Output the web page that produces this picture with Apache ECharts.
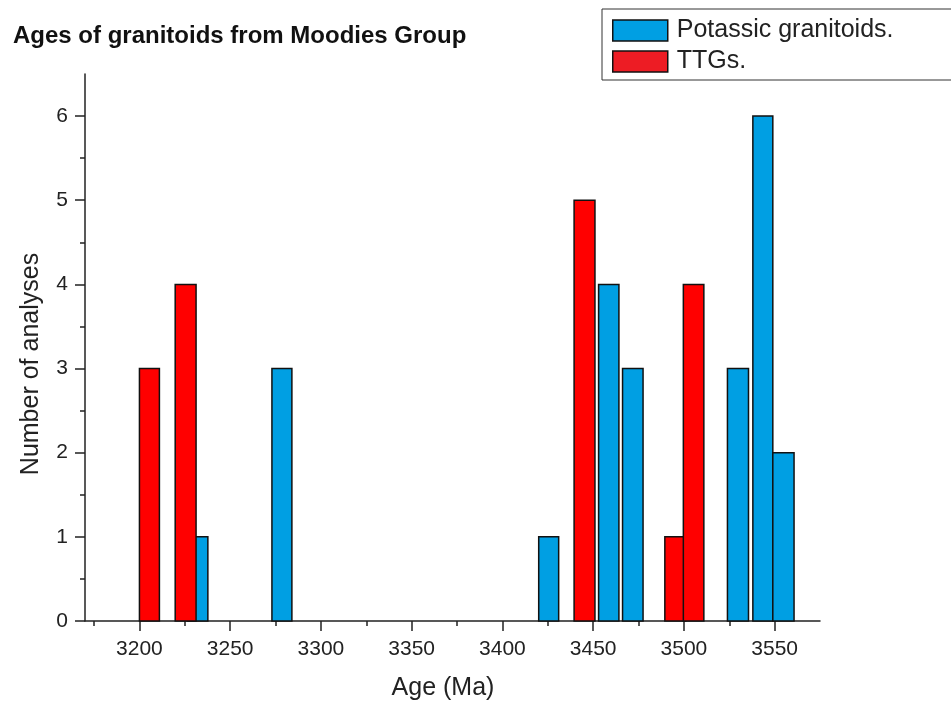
<!DOCTYPE html>
<html>
<head>
<meta charset="utf-8">
<title>Ages of granitoids from Moodies Group</title>
<script src="https://cdn.jsdelivr.net/npm/echarts@6/dist/echarts.min.js"></script>
<style>
  html, body { margin: 0; padding: 0; background: #fff; }
  #chart { width: 951px; height: 704px; }
</style>
</head>
<body>
<div id="chart"></div>
<script>
// Age bins (Ma): left edge, right edge and number of analyses per bin
const potassicStart = [3226.5, 3273.0, 3420.0, 3453.0, 3466.2, 3524.0, 3538.0, 3549.0];
const potassicEnd   = [3237.7, 3284.0, 3431.0, 3464.2, 3477.5, 3535.6, 3549.0, 3560.7];
const potassicCount = [1, 3, 1, 4, 3, 3, 6, 2];

const ttgStart = [3200.0, 3219.7, 3439.5, 3489.5, 3499.7];
const ttgEnd   = [3211.0, 3231.2, 3451.0, 3501.0, 3511.0];
const ttgCount = [3, 4, 5, 1, 4];

// Axis ticks
const xMajorTicks = [3200, 3250, 3300, 3350, 3400, 3450, 3500, 3550];
const xMinorTicks = [3175, 3225, 3275, 3325, 3375, 3425, 3475, 3525];
const yMajorTicks = [0, 1, 2, 3, 4, 5, 6];
const yMinorTicks = [0.5, 1.5, 2.5, 3.5, 4.5, 5.5];

const FONT = '"Liberation Sans", Arial, sans-serif';
const TEXT = '#222';

function rows(starts, ends, counts) {
  return starts.map((s, i) => [s, ends[i], counts[i]]);
}

function renderBar(params, api) {
  const p0 = api.coord([api.value(0), api.value(2)]);
  const p1 = api.coord([api.value(1), 0]);
  return {
    type: 'rect',
    shape: { x: p0[0], y: p0[1], width: p1[0] - p0[0], height: p1[1] - p0[1] },
    style: api.style({ stroke: '#111', lineWidth: 1.5 })
  };
}

const chart = echarts.init(document.getElementById('chart'), null, { renderer: 'canvas' });

const xRange = { min: 3170, max: 3575 };

chart.setOption({
  animation: false,
  backgroundColor: '#fff',
  title: {
    text: 'Ages of granitoids from Moodies Group',
    left: 8, top: 19,
    textStyle: { fontFamily: FONT, fontWeight: 'bold', fontSize: 24, color: '#111' }
  },
  legend: {
    left: 602, top: 9,
    orient: 'vertical',
    padding: [9, 60, 6, 10],
    itemGap: 6,
    itemWidth: 55, itemHeight: 21,
    borderColor: '#333', borderWidth: 1,
    backgroundColor: '#fff',
    textStyle: { fontFamily: FONT, fontSize: 25, lineHeight: 21, height: 21, color: TEXT, padding: [0, 0, 0, 4] },
    data: [
      { name: 'Potassic granitoids.', icon: 'rect', itemStyle: { color: '#009FE3', borderColor: '#111', borderWidth: 1.5 } },
      { name: 'TTGs.', icon: 'rect', itemStyle: { color: '#ED1C24', borderColor: '#111', borderWidth: 1.5 } }
    ]
  },
  grid: { left: 85, right: 131, top: 74, bottom: 83 },
  xAxis: [
    {
      type: 'value', ...xRange,
      axisLine: { lineStyle: { color: '#222', width: 1.5 } },
      axisTick: { customValues: xMajorTicks, length: 10, lineStyle: { color: '#222', width: 1.5 } },
      axisLabel: {
        customValues: xMajorTicks, fontFamily: FONT, fontSize: 21, color: TEXT, margin: 18,
        formatter: v => String(v)
      },
      splitLine: { show: false }
    },
    {
      type: 'value', ...xRange, position: 'bottom',
      axisLine: { show: false },
      axisTick: { customValues: xMinorTicks, length: 5, lineStyle: { color: '#222', width: 1.5 } },
      axisLabel: { show: false },
      splitLine: { show: false }
    }
  ],
  yAxis: [
    {
      type: 'value', min: 0, max: 6.5,
      axisLine: { show: true, lineStyle: { color: '#222', width: 1.5 } },
      axisTick: { show: true, customValues: yMajorTicks, length: 10, lineStyle: { color: '#222', width: 1.5 } },
      axisLabel: { customValues: yMajorTicks, fontFamily: FONT, fontSize: 21, color: TEXT, margin: 17 },
      splitLine: { show: false }
    },
    {
      type: 'value', min: 0, max: 6.5, position: 'left',
      axisLine: { show: false },
      axisTick: { show: true, customValues: yMinorTicks, length: 5, lineStyle: { color: '#222', width: 1.5 } },
      axisLabel: { show: false },
      splitLine: { show: false }
    }
  ],
  graphic: [
    {
      type: 'text',
      x: 443, y: 688,
      style: {
        text: 'Age (Ma)', fontFamily: FONT, fontSize: 25, fill: TEXT,
        align: 'center', verticalAlign: 'middle'
      }
    },
    {
      type: 'text',
      x: 31, y: 364, rotation: Math.PI / 2,
      style: {
        text: 'Number of analyses', fontFamily: FONT, fontSize: 25, fill: TEXT,
        align: 'center', verticalAlign: 'middle'
      }
    }
  ],
  series: [
    {
      name: 'Potassic granitoids.',
      type: 'custom',
      renderItem: renderBar,
      itemStyle: { color: '#009FE3' },
      encode: { x: [0, 1], y: 2 },
      data: rows(potassicStart, potassicEnd, potassicCount),
      z: 2
    },
    {
      name: 'TTGs.',
      type: 'custom',
      renderItem: renderBar,
      itemStyle: { color: '#FF0000' },
      encode: { x: [0, 1], y: 2 },
      data: rows(ttgStart, ttgEnd, ttgCount),
      z: 3
    }
  ]
});
</script>
</body>
</html>
